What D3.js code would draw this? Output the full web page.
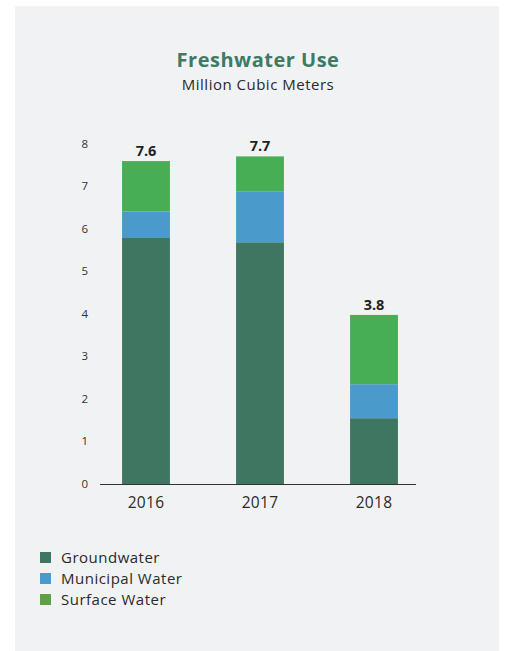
<!DOCTYPE html>
<html lang="en">
<head>
    <meta charset="utf-8">
    <title>Freshwater Use</title>
    <script src="https://d3js.org/d3.v7.min.js"></script>
    <style>
        body { margin: 0; background: #ffffff; }
        text { font-family: "Open Sans", sans-serif; }
    </style>
</head>

<body>
    <script type="text/javascript">
        // data (million cubic meters)
        var years = ["2016", "2017", "2018"];
        var groundwater = [5.8, 5.7, 1.56];
        var municipal = [0.62, 1.2, 0.8];
        var surface = [1.19, 0.82, 1.63];
        var totalLabels = ["7.6", "7.7", "3.8"];
        var seriesNames = ["Groundwater", "Municipal Water", "Surface Water"];
        var yTicks = [0, 1, 2, 3, 4, 5, 6, 7, 8];

        var barColors = ["#3f7662", "#4a9bcb", "#47ae56"];
        var legendColors = ["#3f7662", "#4a9bcb", "#5ea043"];

        var w = 505;
        var h = 651;

        var rows = years.map(function(y, i) {
            return { year: y, g: groundwater[i], m: municipal[i], s: surface[i] };
        });

        var stack = d3.stack().keys(["g", "m", "s"]);
        var layers = stack(rows);

        var x = d3.scaleBand()
                  .domain(years)
                  .range([89, 431])
                  .paddingInner(0.58)
                  .paddingOuter(0.29);

        var y = d3.scaleLinear()
                  .domain([0, 8])
                  .range([484.5, 144.5]);

        //Create SVG element
        var svg = d3.select("body")
                    .append("svg")
                    .attr("width", w)
                    .attr("height", h);

        // panel
        svg.append("rect")
           .attr("x", 15)
           .attr("y", 6)
           .attr("width", 484)
           .attr("height", 645)
           .attr("fill", "#f1f2f4");

        // title
        svg.append("text")
           .attr("x", 258)
           .attr("y", 67)
           .attr("text-anchor", "middle")
           .attr("font-size", "20px")
           .attr("font-weight", "bold")
           .attr("letter-spacing", "0.5px")
           .attr("fill", "#3e7a64")
           .text("Freshwater Use");

        svg.append("text")
           .attr("x", 258)
           .attr("y", 89.5)
           .attr("text-anchor", "middle")
           .attr("font-size", "15px")
           .attr("letter-spacing", "0.5px")
           .attr("fill", "#2a2a2a")
           .text("Million Cubic Meters");

        // y axis labels only
        var yAxis = d3.axisLeft(y)
                      .tickValues(yTicks)
                      .tickSize(0)
                      .tickPadding(0)
                      .tickFormat(d3.format("d"));

        var yg = svg.append("g")
                    .attr("transform", "translate(88, -1)")
                    .call(yAxis);
        yg.select(".domain").remove();
        yg.selectAll("text")
          .attr("font-size", "11.5px")
          .attr("fill", "#333333")
          .style("font-family", "'Open Sans', sans-serif");

        // stacked bars
        var groups = svg.selectAll("g.layer")
                        .data(layers)
                        .enter()
                        .append("g")
                        .attr("class", "layer")
                        .attr("fill", function(d, i) { return barColors[i]; });

        groups.selectAll("rect")
              .data(function(d) { return d; })
              .enter()
              .append("rect")
              .attr("x", function(d) { return x(d.data.year); })
              .attr("y", function(d) { return y(d[1]); })
              .attr("width", x.bandwidth())
              .attr("height", function(d) { return y(d[0]) - y(d[1]); });

        // total labels
        svg.selectAll("text.total")
           .data(layers[2])
           .enter()
           .append("text")
           .attr("class", "total")
           .attr("x", function(d) { return x(d.data.year) + x.bandwidth() / 2; })
           .attr("y", function(d) { return y(d[1]) - 5; })
           .attr("text-anchor", "middle")
           .attr("font-size", "14.5px")
           .attr("font-weight", "bold")
           .attr("fill", "#222222")
           .text(function(d, i) { return totalLabels[i]; });

        // baseline
        svg.append("line")
           .attr("x1", 100)
           .attr("x2", 416)
           .attr("y1", y(0))
           .attr("y2", y(0))
           .attr("stroke", "#333333")
           .attr("stroke-width", 1.2);

        // x axis labels
        var xAxis = d3.axisBottom(x).tickSize(0).tickPadding(0);
        var xg = svg.append("g")
                    .attr("transform", "translate(0, 497)")
                    .call(xAxis);
        xg.select(".domain").remove();
        xg.selectAll("text")
          .attr("font-size", "15.5px")
          .attr("letter-spacing", "0.3px")
          .attr("fill", "#2a2a2a")
          .style("font-family", "'Open Sans', sans-serif");

        // legend
        var legend = svg.selectAll("g.legend")
                        .data(seriesNames)
                        .enter()
                        .append("g")
                        .attr("class", "legend")
                        .attr("transform", function(d, i) { return "translate(40, " + (557.5 + i * 21) + ")"; });

        legend.append("rect")
              .attr("x", 0)
              .attr("y", -5.5)
              .attr("width", 11)
              .attr("height", 11)
              .attr("fill", function(d, i) { return legendColors[i]; });

        legend.append("text")
              .attr("x", 21)
              .attr("y", 5.5)
              .attr("font-size", "15px")
              .attr("letter-spacing", "0.5px")
              .attr("fill", "#2a2a2a")
              .text(function(d) { return d; });
    </script>
</body>
</html>
